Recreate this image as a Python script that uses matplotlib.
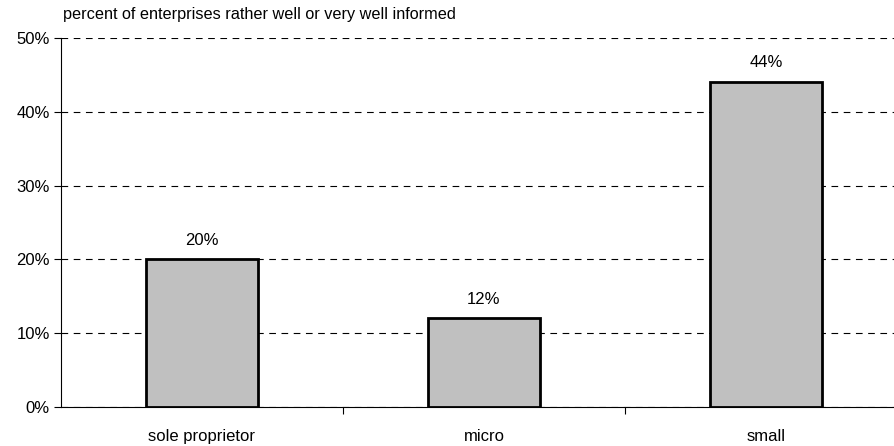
import matplotlib.pyplot as plt
from matplotlib.ticker import PercentFormatter

plt.rcParams['font.family'] = ['Liberation Sans', 'DejaVu Sans']

categories = ['sole proprietor', 'micro', 'small']
shares = [20, 12, 44]
yticks = [0, 10, 20, 30, 40, 50]

fig = plt.figure(figsize=(8.94, 4.46), dpi=100)
# axes runs a little past the right edge of the figure
ax = fig.add_axes([61 / 894, 1 - 407 / 446, 846 / 894, 369 / 446])

x = range(len(categories))
bars = ax.bar(x, shares, width=0.4, color='#c0c0c0', edgecolor='black',
              linewidth=2, zorder=3)
for xi, v in zip(x, shares):
    ax.text(xi, v + 1.6, f'{v}%', ha='center', va='bottom', fontsize=12)

ax.set_xlim(-0.5, 2.5)
ax.set_ylim(0, 50)
ax.set_yticks(yticks)
ax.yaxis.set_major_formatter(PercentFormatter(decimals=0))
ax.set_xticks([0.5, 1.5], minor=False)
ax.set_xticklabels([])
ax.set_xticks(list(x), minor=True)
ax.set_xticklabels(categories, minor=True)
ax.tick_params(axis='x', which='minor', length=0, pad=16, labelsize=12)
ax.tick_params(axis='x', which='major', length=5, direction='out', width=0.8)
ax.tick_params(axis='y', length=5, direction='out', width=0.8, labelsize=12, pad=3)

ax.yaxis.grid(True, color='black', linestyle=(0, (6, 5)), linewidth=0.8, zorder=0)
for s in ['top', 'right']:
    ax.spines[s].set_visible(False)
ax.spines['left'].set_linewidth(0.8)
ax.spines['bottom'].set_linewidth(0.8)

fig.text(63 / 894, 1 - 15 / 446, 'percent of enterprises rather well or very well informed',
         ha='left', va='center', fontsize=11.7)

fig.savefig('out.png', dpi=100)
